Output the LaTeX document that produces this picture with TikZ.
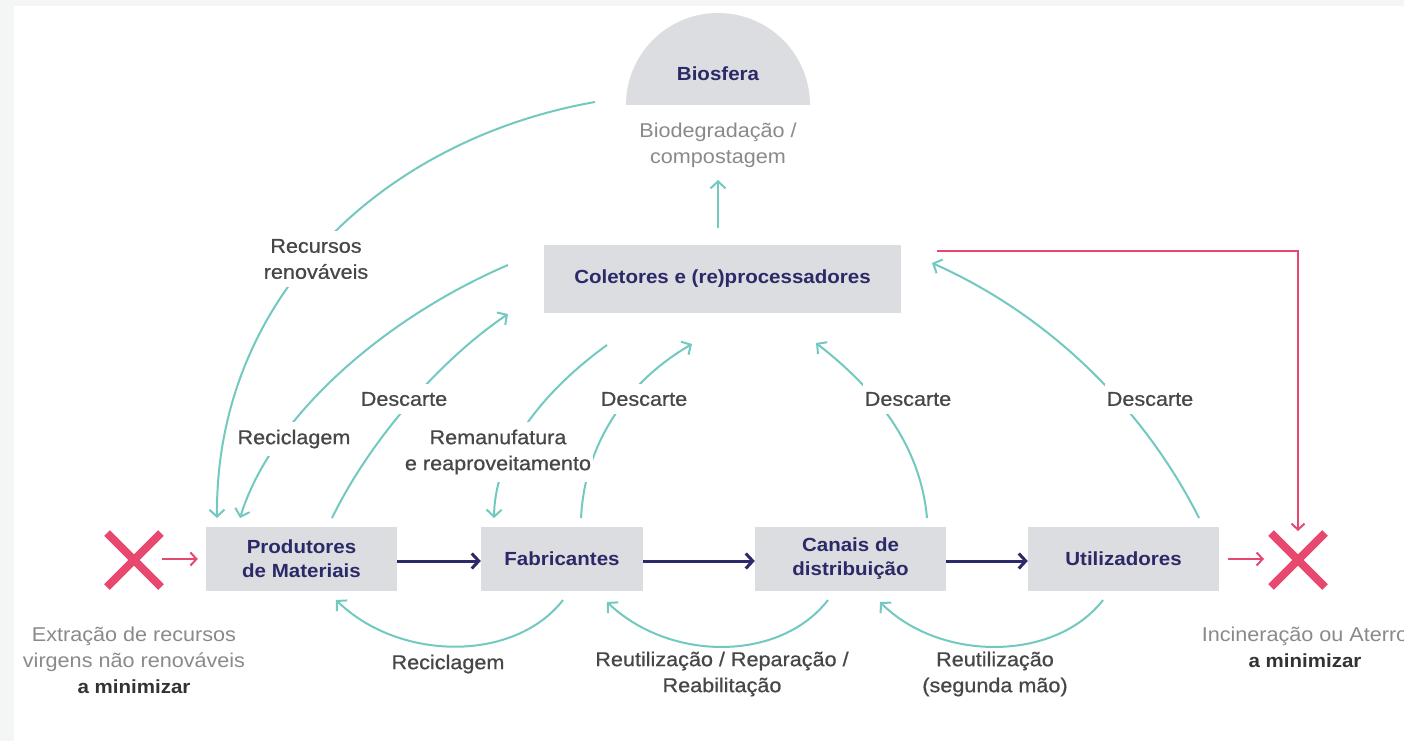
\documentclass[tikz,border=0pt]{standalone}
\usepackage{fontspec}
\setmainfont{Liberation Sans}[FakeStretch=1.08]
\newfontfamily\medfont{Liberation Sans}[FakeStretch=1.08,FakeBold=0.7]
\usetikzlibrary{arrows.meta}
\definecolor{frame}{HTML}{F4F6F6}
\definecolor{boxgray}{HTML}{DCDDE0}
\definecolor{tealc}{HTML}{72C9BF}
\definecolor{pinkc}{HTML}{E8476F}
\definecolor{navyc}{HTML}{2B2967}
\definecolor{lbltext}{HTML}{474747}
\definecolor{lighttext}{HTML}{8A8A8A}
\tikzset{
  box/.style={fill=boxgray, text=navyc, font=\bfseries\fontsize{19}{24}\selectfont, align=center, inner sep=0pt},
  lbl/.style={fill=white, text=lbltext, font=\medfont\fontsize{20}{26}\selectfont, align=center, inner xsep=2pt, inner ysep=8pt},
  lblnofill/.style={text=lbltext, font=\medfont\fontsize{20}{26}\selectfont, align=center, inner sep=1pt},
  lightlbl/.style={text=lighttext, font=\fontsize{20}{26}\selectfont, align=center, inner sep=1pt},
  boldlbl/.style={text=black!80, font=\bfseries\fontsize{19}{24}\selectfont, inner sep=1pt},
  tealarrow/.style={draw=tealc, line width=2pt, -{Straight Barb[length=7pt,width=15pt,line width=2pt]}},
  navyarrow/.style={draw=navyc, line width=3pt, -{Straight Barb[length=7pt,width=15pt,line width=3pt]}},
  pinkarrow/.style={draw=pinkc, line width=2pt, -{Straight Barb[length=6pt,width=13pt,line width=2pt]}},
  xmark/.style={draw=pinkc, line width=8pt}
}
\begin{document}
\begin{tikzpicture}[x=1pt,y=-1pt]
\useasboundingbox (0,0) rectangle (1404,741);
\clip (0,0) rectangle (1404,741);
\fill[frame] (0,0) rectangle (1404,741);
\fill[white] (14,6) rectangle (1404,741);

% Biosfera half disc
\fill[boxgray] (626,105) arc[start angle=180, end angle=0, radius=92pt] -- cycle;
\node[text=navyc, font=\bfseries\fontsize{19}{24}\selectfont] (bio) at (718,74) {Biosfera};
\node[lightlbl] (biod) at (718,145) {Biodegradação /\\compostagem};

% boxes
\node[box, minimum width=357pt, minimum height=68pt] (col) at (722.5,279) {Coletores e (re)processadores};
\node[box, minimum width=191pt, minimum height=64pt] (prod) at (301.5,559) {Produtores\\de Materiais};
\node[box, minimum width=162pt, minimum height=64pt] (fab) at (562,559) {Fabricantes};
\node[box, minimum width=191pt, minimum height=64pt] (can) at (850.5,559) {Canais de\\distribuição};
\node[box, minimum width=191pt, minimum height=64pt] (uti) at (1123.5,559) {Utilizadores};

% X marks
\coordinate (xl) at (134,560);
\coordinate (xr) at (1298,560);
\draw[xmark] ([shift={(-27,-27)}]xl) -- ([shift={(27,27)}]xl);
\draw[xmark] ([shift={(-27,27)}]xl) -- ([shift={(27,-27)}]xl);
\draw[xmark] ([shift={(-27,-27)}]xr) -- ([shift={(27,27)}]xr);
\draw[xmark] ([shift={(-27,27)}]xr) -- ([shift={(27,-27)}]xr);

% navy flow arrows
\draw[navyarrow] ([yshift=-2pt]prod.east) -- ([yshift=-2pt]fab.west);
\draw[navyarrow] ([yshift=-2pt]fab.east) -- ([yshift=-2pt]can.west);
\draw[navyarrow] ([yshift=-2pt]can.east) -- ([yshift=-2pt]uti.west);

% pink arrows
\coordinate (pl) at (162,559);
\coordinate (pr) at (1264,559);
\draw[pinkarrow] (pl) -- ([xshift=-8pt]prod.west);
\draw[pinkarrow] ([xshift=9pt]uti.east) -- (pr);
\coordinate (pk1) at (937,251);
\coordinate (pk2) at (1298,251);
\coordinate (pk3) at (1298,531);
\draw[pinkarrow] (pk1) -- (pk2) -- (pk3);

% Biosfera arrow
\coordinate (ba1) at (718,228);
\coordinate (ba2) at (718,180);
\draw[tealarrow] (ba1) -- (ba2);

% teal curves
\coordinate (c1s) at (595,102);
\coordinate (c1e) at (217,518);
\draw[tealarrow] (c1s) .. controls (380,140) and (215,300) .. (c1e);
\coordinate (c2s) at (508,265);
\coordinate (c2e) at (240,518);
\draw[tealarrow] (c2s) .. controls (380,320) and (270,420) .. (c2e);
\coordinate (c3s) at (332,518);
\coordinate (c3e) at (508,314);
\draw[tealarrow] (c3s) .. controls (370,440) and (440,360) .. (c3e);
\coordinate (c4s) at (607,345);
\coordinate (c4e) at (494,518);
\draw[tealarrow] (c4s) .. controls (545,390) and (495,450) .. (c4e);
\coordinate (c5s) at (581,518);
\coordinate (c5e) at (692,344);
\draw[tealarrow] (c5s) .. controls (585,440) and (630,380) .. (c5e);
\coordinate (c6s) at (927,518);
\coordinate (c6e) at (816,343);
\draw[tealarrow] (c6s) .. controls (920,440) and (870,385) .. (c6e);
\coordinate (c7s) at (1199,518);
\coordinate (c7e) at (932,263);
\draw[tealarrow] (c7s) .. controls (1150,420) and (1060,320) .. (c7e);

% bottom arcs
\coordinate (b1s) at (563,600);
\coordinate (b1e) at (336,600);
\draw[tealarrow] (b1s) .. controls (515,662) and (400,662) .. (b1e);
\coordinate (b2s) at (828,600);
\coordinate (b2e) at (607,602);
\draw[tealarrow] (b2s) .. controls (780,662) and (670,662) .. (b2e);
\coordinate (b3s) at (1103,600);
\coordinate (b3e) at (880,602);
\draw[tealarrow] (b3s) .. controls (1055,662) and (940,662) .. (b3e);

% labels
\node[lbl] (lrr) at (316,259) {Recursos\\renováveis};
\node[lbl] (lrec1) at (294,439) {Reciclagem};
\node[lbl] (ld1) at (404,399) {Descarte};
\node[lbl] (lrem) at (498,452) {Remanufatura\\e reaproveitamento};
\node[lbl] (ld2) at (644,399) {Descarte};
\node[lbl] (ld3) at (908,399) {Descarte};
\node[lbl] (ld4) at (1150,399) {Descarte};
\node[lblnofill] (lrec2) at (448,664) {Reciclagem};
\node[lblnofill] (lrrr) at (722,674) {Reutilização / Reparação /\\Reabilitação};
\node[lblnofill] (lrsm) at (995,674) {Reutilização\\(segunda mão)};

\node[lightlbl] (lext) at (134,649) {Extração de recursos\\virgens não renováveis};
\node[boldlbl] (lextb) at (134,687) {a minimizar};
\node[lightlbl] (linc) at (1305,636) {Incineração ou Aterro};
\node[boldlbl] (lincb) at (1305,661) {a minimizar};
\end{tikzpicture}
\end{document}
